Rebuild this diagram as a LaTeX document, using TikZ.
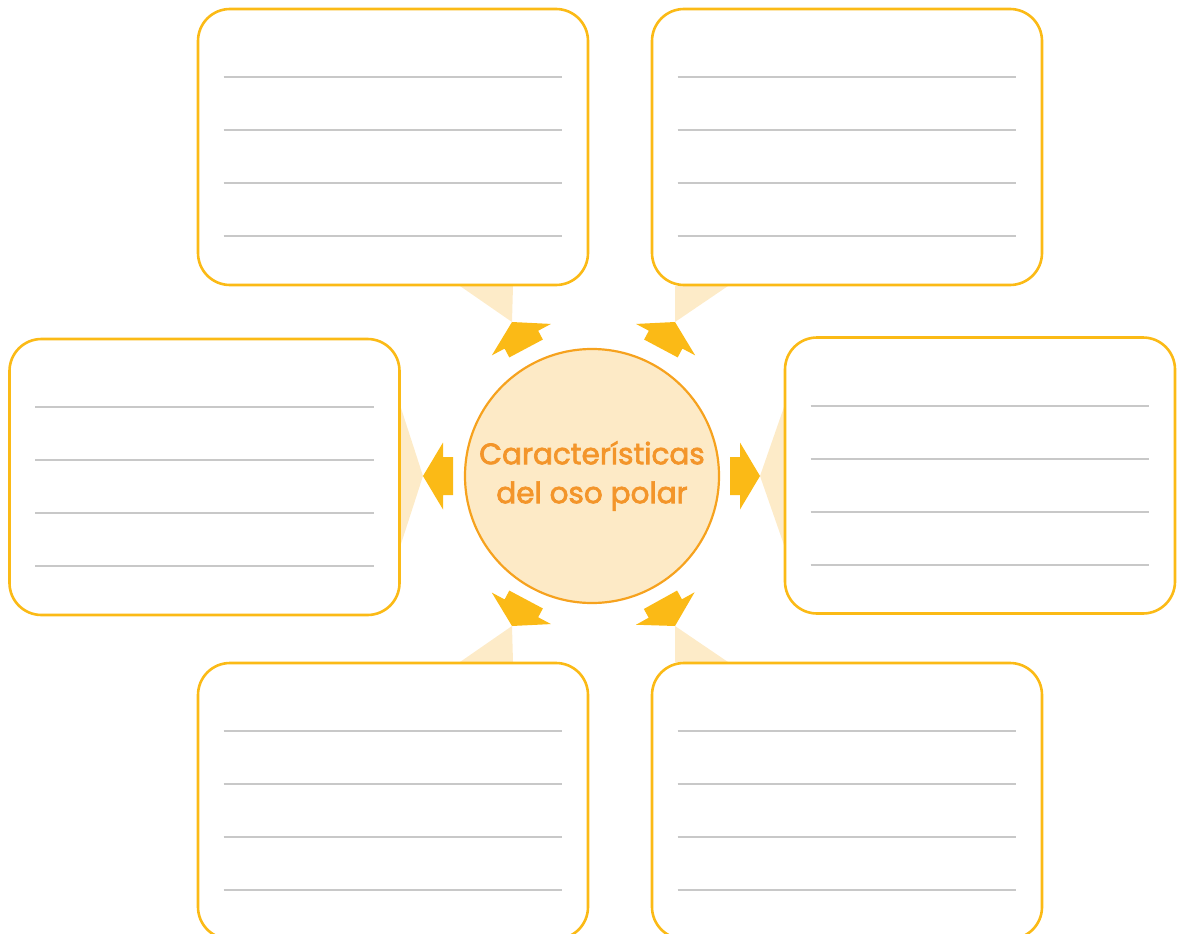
\documentclass[tikz,border=0pt]{standalone}
\usepackage{fontspec}
\usepackage{tikz}
\usetikzlibrary{calc}
\newfontfamily\rotulo{Poppins}[FakeBold=2.4]

\definecolor{bordeamarillo}{HTML}{FBBA16}
\definecolor{flechaamarilla}{HTML}{FBBA16}
\definecolor{cunaclara}{HTML}{FDEBC8}
\definecolor{circulofondo}{HTML}{FDEAC6}
\definecolor{circuloborde}{HTML}{F6A21E}
\definecolor{textonaranja}{HTML}{F3952A}
\definecolor{renglongris}{HTML}{C8C8C8}

\tikzset{
	caja/.style={draw=bordeamarillo,fill=white,line width=2.6pt,rounded corners=32pt,
		minimum width=390pt,minimum height=276pt,inner sep=0pt},
	renglon/.style={draw=renglongris,line width=2pt},
	cuna/.style={fill=cunaclara},
	centro/.style={circle,draw=circuloborde,fill=circulofondo,line width=2.2pt,
		minimum size=254pt,inner sep=0pt},
	pics/flecha/.style={code={
		\fill[flechaamarilla] (0,0)--(-20,33.5)--(-20,19)--(-30,19)--(-30,-19)--(-20,-19)--(-20,-33.5)--cycle;
	}}
}

\begin{document}
\begin{tikzpicture}[x=1pt,y=-1pt]
			\clip (0,0) rectangle (1181,934);
			% puntas de las cunas
			\coordinate (ptl) at (512,322);
			\coordinate (ptr) at (675,322);
			\coordinate (pml) at (423,476);
			\coordinate (pmr) at (760,476);
			\coordinate (pbl) at (512,626);
			\coordinate (pbr) at (675,626);
			% cunas claras
			\fill[cuna] (460,286)--(513,286)--(ptl)--cycle;
			\fill[cuna] (675,286)--(728,286)--(ptr)--cycle;
			\fill[cuna] (401,408)--(401,544)--(pml)--cycle;
			\fill[cuna] (784,407)--(784,545)--(pmr)--cycle;
			\fill[cuna] (460,662)--(513,662)--(pbl)--cycle;
			\fill[cuna] (675,662)--(728,662)--(pbr)--cycle;
			% cajas
			\node[caja] (tl) at (393,147) {};
			\node[caja] (tr) at (847,147) {};
			\node[caja] (ml) at (204.5,477) {};
			\node[caja] (mr) at (980,475.5) {};
			\node[caja] (bl) at (393,801) {};
			\node[caja] (br) at (847,801) {};
			\foreach \b in {tl,tr,ml,mr,bl,br}
				\foreach \dy in {-70,-17,36,89}
					\draw[renglon] ($(\b.west)+(27,\dy)$)--($(\b.east)+(-27,\dy)$);
			% circulo central
			\node[centro,text=textonaranja,align=center,font=\rotulo\fontsize{29.5}{39}\selectfont]
				(oso) at (592,476) {Características\\del oso polar};
			% flechas
			\pic[rotate=118] at (ptl) {flecha};
			\pic[rotate=62] at (ptr) {flecha};
			\pic[rotate=180] at (pml) {flecha};
			\pic[rotate=0] at (pmr) {flecha};
			\pic[rotate=242] at (pbl) {flecha};
			\pic[rotate=299] at (pbr) {flecha};
		\end{tikzpicture}
\end{document}
